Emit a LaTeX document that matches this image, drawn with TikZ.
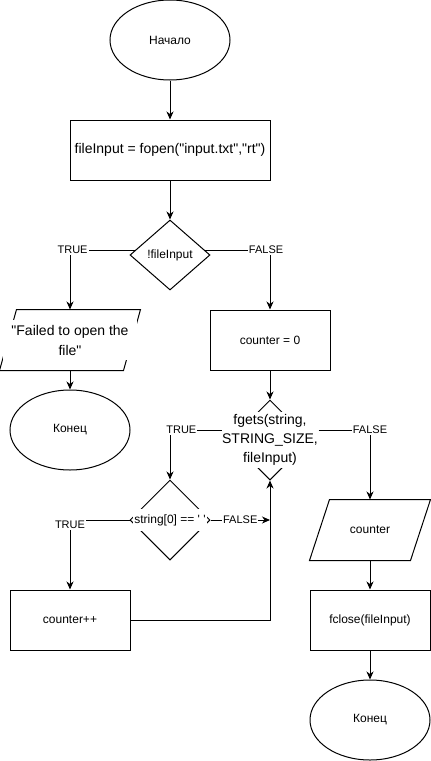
\documentclass[tikz,border=0pt]{standalone}
\usepackage{fontspec}
\setmainfont{Liberation Sans}[Ligatures=TeXOff]
\usetikzlibrary{shapes.geometric,arrows.meta,calc}
\begin{document}
\begin{tikzpicture}[x=1pt,y=1pt,line width=1pt,
  txt/.style={font=\fontsize{12}{14}\selectfont},
  bigtxt/.style={font=\fontsize{14}{20}\selectfont},
  terminal/.style={ellipse,draw,fill=white,minimum width=120pt,minimum height=80pt,inner sep=0pt,txt},
  procbox/.style={rectangle,draw,fill=white,minimum width=120pt,minimum height=60pt,inner sep=0pt,txt},
  iobox/.style={rectangle,minimum height=60pt,inner sep=0pt,txt},
  decision/.style={diamond,draw,fill=white,minimum width=80pt,minimum height=80pt,inner sep=0pt,txt},
  covertxt/.style={fill=white,inner sep=0pt,align=center},
  lab/.style={fill=white,inner sep=1pt,font=\fontsize{11}{13}\selectfont},
  arr/.style={-{Stealth[length=8pt,width=7pt,inset=2.5pt]}}]
\useasboundingbox (0,0) rectangle (431,-761);

% left column and main entry
\node[terminal] (start) at (170,-40) {Начало};
\node[procbox,bigtxt,minimum width=200pt] (open) at (170,-150) {fileInput = fopen("input.txt","rt")};
\node[decision,minimum height=70pt] (chk) at (170,-255) {!fileInput};

% error output parallelogram
\node[iobox,minimum width=140pt] (fail) at (70,-340) {};
\draw ([xshift=17pt]fail.north west) -- (fail.north east)
  -- ([xshift=-17pt]fail.south east) -- (fail.south west) -- cycle;
\node[covertxt,bigtxt,minimum width=134pt,minimum height=40pt] (failtxt) at (fail) {"Failed to open the\\file"};
\node[terminal] (end1) at (70,-430) {Конец};

% reading loop
\node[procbox] (zero) at (270,-340) {counter = 0};
\node[decision] (fg) at (270,-440) {};
\node[covertxt,font=\fontsize{14}{19}\selectfont,minimum width=96pt,minimum height=56pt] (fgt) at (270,-440)
  {fgets(string,\\STRING\_SIZE,\\fileInput)};
\node[decision] (cmp) at (170,-520) {};
\node[covertxt,txt,inner xsep=1.5pt,inner ysep=5pt] (cmpt) at (cmp) {string[0] == ' '};
\node[procbox] (inc) at (70,-620) {counter++};

% output and finish
\node[iobox,minimum width=120pt] (cnt) at (370,-530) {counter};
\draw ([xshift=20pt]cnt.north west) -- (cnt.north east)
  -- ([xshift=-20pt]cnt.south east) -- (cnt.south west) -- cycle;
\node[procbox] (close) at (370,-620) {fclose(fileInput)};
\node[terminal] (end2) at (370,-720) {Конец};

% connectors
\draw[arr] (start.south) -- (open.north);
\draw[arr] (open.south) -- (chk.north);
\draw[arr] (chk.172) -| node[lab,pos=0.48] (t1) {TRUE} (fail.north);
\draw[arr] (chk.8) -| node[lab,pos=0.47] (f1) {FALSE} (zero.north);
\draw[arr] (fail.south) -- (end1.north);
\draw[arr] (zero.south) -- (fg.north);
\draw[arr] ([yshift=10pt]fgt.west) -| node[lab,pos=0.39] (t2) {TRUE} (cmp.north);
\draw[arr] ([yshift=10pt]fgt.east) -| node[lab,pos=0.5] (f2) {FALSE} (cnt.north);
\draw[arr] (cmp.west) -| node[lab,pos=0.5,yshift=-5pt] (t3) {TRUE} (inc.north);
\coordinate (join) at (fg.south |- cmp.east);
\draw[arr] (cmp.east) -- node[lab] (f3) {FALSE} (join);
\draw[arr] (inc.east) -| (fg.south);
\draw[arr] (cnt.south) -- (close.north);
\draw[arr] (close.south) -- (end2.north);
\end{tikzpicture}
\end{document}
